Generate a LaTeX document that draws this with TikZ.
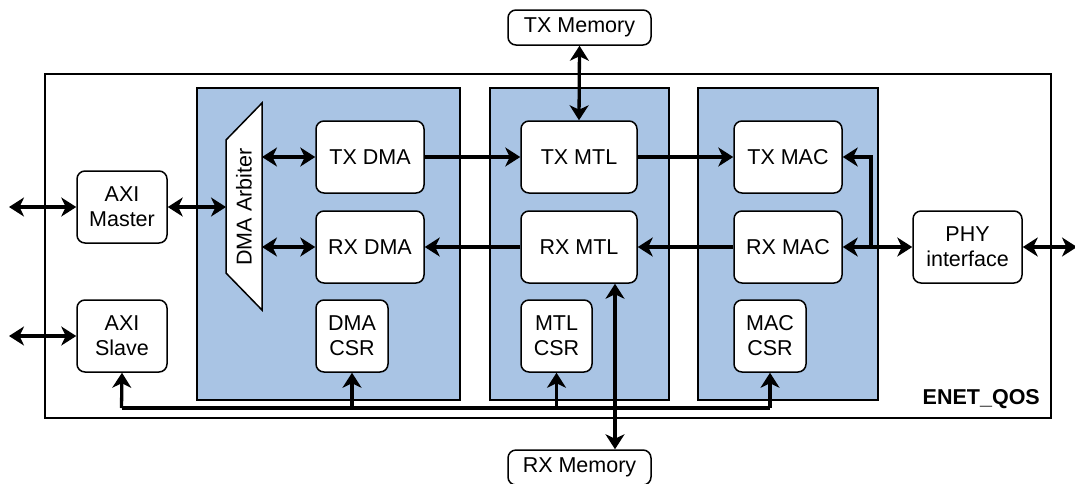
\documentclass[tikz,border=0pt]{standalone}
\usepackage{fontspec}
\setmainfont{Liberation Sans}
\usetikzlibrary{arrows.meta}
\definecolor{panelblue}{HTML}{A9C4E4}
\begin{document}
\begin{tikzpicture}[x=1pt,y=-1pt,
  blk/.style={draw, line width=1.5pt, rounded corners=8pt, fill=white, inner sep=0pt, align=center,
    minimum width=108pt, minimum height=72pt, font=\fontsize{21.5}{25}\selectfont},
  panel/.style={draw, line width=1.2pt, fill=panelblue},
  tip/.tip={Stealth[length=15pt,width=19pt,inset=4.5pt]},
  conn/.style={line width=3.3pt, -tip},
  dconn/.style={line width=3.3pt, tip-tip},
  plain/.style={line width=3.3pt}
]
\useasboundingbox (0,0) rectangle (1075,483);
% outer box
\draw[line width=1.2pt] (45,74) rectangle (1051,418);
\node[anchor=south east, font=\bfseries\fontsize{21.5}{25}\selectfont, inner sep=0pt] (enet) at (1040,409) {ENET\_QOS};
% panels
\draw[panel] (197,88) rectangle (460,400);
\draw[panel] (490,88) rectangle (669,400);
\draw[panel] (698,88) rectangle (878,400);
% arbiter
\draw[line width=1.5pt, fill=white] (226,140) -- (262,103) -- (262,310) -- (226,273) -- cycle;
\node[rotate=90, font=\fontsize{21.5}{25}\selectfont] (arbtxt) at (244,207) {DMA Arbiter};
\coordinate (arbL) at (226,207);
\coordinate (arbT) at (262,157);
\coordinate (arbB) at (262,247);
% memories
\node[blk, minimum width=143pt, minimum height=35pt] (txmem) at (579.5,27.5) {TX Memory};
\node[blk, minimum width=143pt, minimum height=35pt] (rxmem) at (579.5,467.5) {RX Memory};
% blocks
\node[blk] (txdma) at (370,157) {TX DMA};
\node[blk] (rxdma) at (370,247) {RX DMA};
\node[blk, minimum width=72pt] (dmacsr) at (352,336) {DMA\\CSR};
\node[blk, minimum width=116pt] (txmtl) at (579,157) {TX MTL};
\node[blk, minimum width=116pt] (rxmtl) at (579,247) {RX MTL};
\node[blk, minimum width=71pt] (mtlcsr) at (556.5,336) {MTL\\CSR};
\node[blk] (txmac) at (788,157) {TX MAC};
\node[blk] (rxmac) at (788,247) {RX MAC};
\node[blk, minimum width=72pt] (maccsr) at (770,336) {MAC\\CSR};
\node[blk, minimum width=90pt] (axim) at (122,207) {AXI\\Master};
\node[blk, minimum width=90pt] (axis) at (122,336) {AXI\\Slave};
\node[blk, minimum width=109pt] (phy) at (967.5,247) {PHY\\interface};
% free ends
\coordinate (extM) at (9,207);
\coordinate (extS) at (9,336);
\coordinate (extP) at (1077,247);
\coordinate (busL) at (121.5,408);
\coordinate (busR) at (770,408);
\coordinate (br) at (871,247);
\coordinate (brT) at (871,157);
% connectors
\draw[dconn] (extM) -- (axim.west);
\draw[dconn] (extS) -- (axis.west);
\draw[dconn] (axim.east) -- (arbL);
\draw[dconn] (arbT) -- (txdma.west);
\draw[dconn] (arbB) -- (rxdma.west);
\draw[conn] (txdma.east) -- (txmtl.west);
\draw[conn] (txmtl.east) -- (txmac.west);
\draw[conn] (rxmac.west) -- (rxmtl.east);
\draw[conn] (rxmtl.west) -- (rxdma.east);
\draw[dconn] (txmem.south) -- (txmtl.north);
\draw[dconn] (rxmtl.south -| 615,0) -- (rxmem.north -| 615,0);
\draw[dconn] (rxmac.east) -- (phy.west);
\draw[conn] (br) -- (brT) -- (txmac.east);
\draw[dconn] (phy.east) -- (extP);
% bus
\draw[plain] (busL) -- (busR);
\draw[conn] (busL) -- (axis.south);
\draw[conn] (busL -| dmacsr.south) -- (dmacsr.south);
\draw[conn] (busL -| mtlcsr.south) -- (mtlcsr.south);
\draw[conn] (busR) -- (maccsr.south);
\end{tikzpicture}
\end{document}
